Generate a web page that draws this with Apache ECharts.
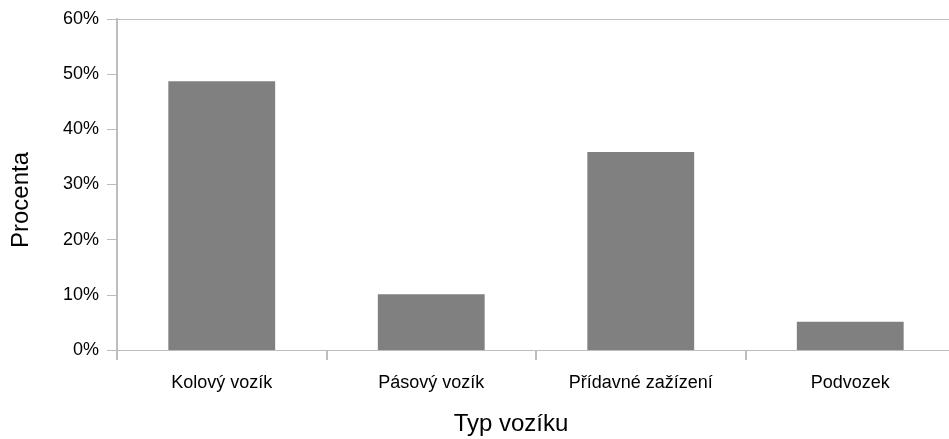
<!DOCTYPE html>
<html>
<head>
<meta charset="utf-8">
<script src="https://cdn.jsdelivr.net/npm/echarts@6/dist/echarts.min.js"></script>
<style>
html,body{margin:0;padding:0;background:#fff;}
#chart{width:949px;height:439px;}
</style>
</head>
<body>
<div id="chart"></div>
<script>
var categories = ['Kolový vozík', 'Pásový vozík', 'Přídavné zažízení', 'Podvozek'];
var values = [48.7, 10.1, 35.9, 5.1];
var yTicks = [0, 10, 20, 30, 40, 50, 60];

var axisGray = '#bdbdbd';
var font = 'Liberation Sans, Arial, sans-serif';
var chart = echarts.init(document.getElementById('chart'));
chart.setOption({
  animation: false,
  backgroundColor: '#fff',
  grid: {left: 117, top: 19, bottom: 89, width: 838, containLabel: false, outerBoundsMode: 'none'},
  xAxis: [{
    type: 'category',
    data: categories,
    position: 'bottom',
    name: 'Typ vozíku',
    nameLocation: 'middle',
    nameGap: 62,
    nameTextStyle: {fontFamily: font, fontSize: 24, color: '#000', padding: [0, 50, 0, 0]},
    axisLine: {lineStyle: {color: axisGray, width: 1}},
    axisTick: {show: true, alignWithLabel: false, length: 10, lineStyle: {color: axisGray, width: 2}},
    axisLabel: {fontFamily: font, fontSize: 18, color: '#000', margin: 24, interval: 0},
    splitLine: {show: false}
  }, {
    type: 'category',
    data: categories,
    position: 'top',
    axisLine: {show: true, lineStyle: {color: axisGray, width: 1}},
    axisTick: {show: false},
    axisLabel: {show: false},
    splitLine: {show: false}
  }],
  yAxis: {
    type: 'value',
    min: yTicks[0],
    max: yTicks[yTicks.length - 1],
    interval: 10,
    name: 'Procenta',
    nameLocation: 'middle',
    nameGap: 84,
    nameTextStyle: {fontFamily: font, fontSize: 24, color: '#000', padding: [0, 31, 0, 0]},
    axisLine: {show: true, lineStyle: {color: axisGray, width: 2}},
    axisTick: {show: true, length: 10, lineStyle: {color: axisGray, width: 1}},
    axisLabel: {fontFamily: font, fontSize: 18, color: '#000', margin: 18, formatter: function (v) { return v + '%'; }},
    splitLine: {show: false}
  },
  series: [{
    type: 'bar',
    data: values,
    barWidth: '51%',
    itemStyle: {color: '#808080'},
    silent: true
  }]
});
</script>
</body>
</html>
